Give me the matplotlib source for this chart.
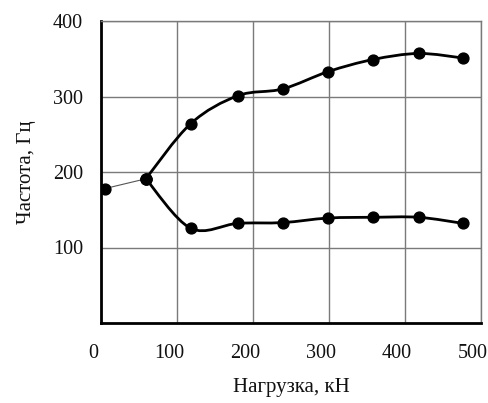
import matplotlib
matplotlib.use('Agg')
import matplotlib.pyplot as plt
import matplotlib.transforms as mtransforms
from matplotlib.path import Path
from matplotlib.patches import PathPatch
import numpy as np

# Data
start_x = [5, 59]
start_y = [178, 191]
load_x = [59, 118, 180, 239, 299, 358, 418, 476]
upper_y = [191, 264, 301, 310, 333, 349, 357, 351]
lower_y = [191, 125.5, 132, 133, 139, 140, 140, 132]
xticks = [0, 100, 200, 300, 400, 500]
yticks = [100, 200, 300, 400]

plt.rcParams['font.family'] = ['Liberation Serif', 'DejaVu Serif']

fig = plt.figure(figsize=(4.88, 4.03), dpi=100)
ax = fig.add_axes([101 / 488, (403 - 323) / 403, 380 / 488, 302 / 403])
ax.set_xlim(0, 500)
ax.set_ylim(0, 400)


def smooth_path(xs, ys, t=1 / 6):
    # Catmull-Rom style Bezier segments, like a smoothed spreadsheet line
    pts = np.column_stack([xs, ys]).astype(float)
    verts = [pts[0]]
    codes = [Path.MOVETO]
    n = len(pts)
    for i in range(n - 1):
        p0 = pts[i - 1] if i > 0 else pts[i]
        p1 = pts[i]
        p2 = pts[i + 1]
        p3 = pts[i + 2] if i + 2 < n else pts[i + 1]
        c1 = p1 + (p2 - p0) * t
        c2 = p2 - (p3 - p1) * t
        verts += [c1, c2, p2]
        codes += [Path.CURVE4] * 3
    return Path(verts, codes)


ax.plot(start_x, start_y, color='#555555', lw=0.8, zorder=3)
for ys in (upper_y, lower_y):
    ax.add_patch(PathPatch(smooth_path(load_x, ys), fill=False, lw=2.0,
                           edgecolor='black', zorder=3))
ax.plot(start_x, start_y, 'o', color='black', ms=7.8, zorder=4)
ax.plot(load_x, upper_y, 'o', color='black', ms=7.8, zorder=4)
ax.plot(load_x, lower_y, 'o', color='black', ms=7.8, zorder=4)

ax.set_xticks(xticks)
ax.set_yticks(yticks)
ax.grid(True, color='#7a7a7a', lw=1.0, zorder=0)
ax.tick_params(length=0, labelsize=14.5, colors='#111111', pad=15)
ax.tick_params(axis='y', pad=13)
offset = mtransforms.ScaledTranslation(-8 / 100, 0, fig.dpi_scale_trans)
for lab in ax.get_xticklabels():
    lab.set_transform(lab.get_transform() + offset)

for side in ('top', 'right'):
    ax.spines[side].set_color('#7a7a7a')
    ax.spines[side].set_linewidth(1.0)
for side in ('left', 'bottom'):
    ax.spines[side].set_color('black')
    ax.spines[side].set_linewidth(2.0)

ax.set_xlabel('Нагрузка, кН', fontsize=15, labelpad=11, color='#111111')
ax.set_ylabel('Частота, Гц', fontsize=15, labelpad=12, color='#111111')

fig.savefig('out.png', dpi=100, facecolor='white')
